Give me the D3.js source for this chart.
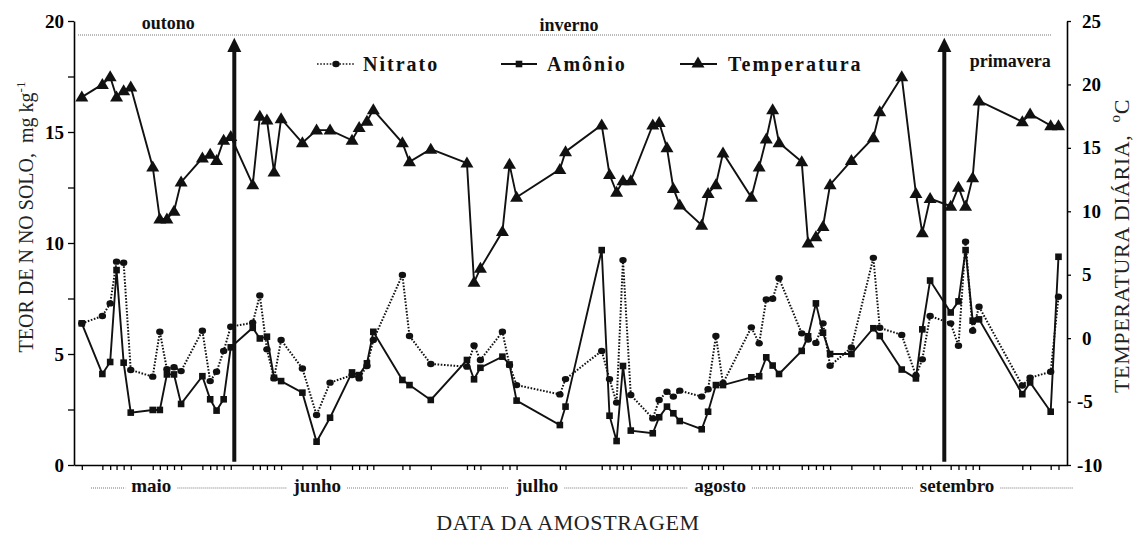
<!DOCTYPE html>
<html><head><meta charset="utf-8">
<script src="https://cdn.jsdelivr.net/npm/d3@7"></script>
<style>
html,body{margin:0;padding:0;background:#fff;}
svg{display:block;font-family:"Liberation Serif","Times New Roman",serif;}
</style></head><body>
<svg id="chart" width="1139" height="541"></svg>
<script>
// ---------- dados ----------
const dias = [1.1,4.0,5.1,6.0,7.0,8.0,11.1,12.1,13.1,14.1,15.1,18.1,19.2,20.1,21.1,22.1,25.2,26.2,27.2,28.2,29.2,32.2,34.2,36.1,39.2,40.2,41.3,42.2,46.3,47.3,50.3,55.4,56.4,57.3,60.4,61.4,62.4,68.5,69.3,74.4,75.5,76.5,77.4,78.5,81.6,82.5,83.6,84.5,85.4,88.5,89.4,90.5,91.5,95.5,96.6,97.6,98.5,99.4,102.6,103.5,104.6,105.6,106.6,109.6,112.7,113.6,116.7,118.7,119.6,120.7,123.6,124.7,125.7,126.7,127.6,133.7,134.8,137.7,138.8];
const nitrato = [6.38,6.71,7.28,9.16,9.11,4.28,3.98,6.00,4.31,4.40,4.23,6.05,3.78,4.20,5.14,6.23,6.41,7.64,5.21,3.90,5.63,4.35,2.25,3.71,4.05,3.90,4.46,5.63,8.56,5.81,4.55,4.43,5.38,4.73,6.00,4.50,3.60,3.18,3.87,5.14,3.87,2.81,9.23,3.15,2.10,2.93,3.30,3.08,3.35,3.08,3.41,5.81,3.68,6.20,5.48,7.46,7.49,8.41,5.93,5.65,5.50,6.38,4.47,5.29,9.33,6.18,5.86,4.03,4.76,6.71,6.38,5.37,10.06,6.05,7.13,3.58,3.93,4.20,7.58];
const amonio = [6.38,4.10,4.64,8.78,4.61,2.36,2.48,2.48,4.08,4.08,2.75,4.00,2.96,2.45,2.96,5.30,6.18,5.70,5.78,3.93,3.78,3.26,1.05,2.13,4.17,4.05,4.58,6.00,3.83,3.60,2.93,4.73,3.86,4.38,4.88,4.53,2.90,1.80,2.63,9.68,2.22,1.08,4.46,1.55,1.43,2.15,2.63,2.33,1.98,1.61,2.40,3.60,3.60,3.95,4.00,4.85,4.48,4.10,5.14,5.80,7.28,5.96,5.00,5.00,6.16,5.81,4.30,3.90,6.11,8.31,6.87,7.37,9.68,6.50,6.56,3.19,3.72,2.40,9.38];
const temperatura = [19.0,20.0,20.6,19.0,19.5,19.8,13.5,9.4,9.4,10.0,12.3,14.2,14.5,14.0,15.6,15.9,12.1,17.5,17.2,13.1,17.3,15.4,16.4,16.4,15.6,16.6,17.1,18.0,15.4,13.9,14.9,13.8,4.4,5.5,8.4,13.7,11.1,13.3,14.7,16.8,12.9,11.5,12.4,12.4,16.8,17.0,15.0,11.8,10.5,8.9,11.4,12.1,14.6,11.1,13.5,15.7,18.0,15.4,13.9,7.5,8.0,8.8,12.1,14.0,15.8,17.85,20.6,11.4,8.3,11.0,10.4,11.9,10.4,12.65,18.7,17.06,17.67,16.75,16.75];
const ticksN = [0,5,10,15,20];
const ticksNmenor = [2.5,7.5,12.5,17.5];
const ticksT = [-10,-5,0,5,10,15,20,25];
const meses = ["maio","junho","julho","agosto","setembro"];
const mesesDia = [10.9,34.3,65.3,91.1,124.5];
const estacoes = ["outono","inverno","primavera"];
const estacoesDia = [13.3,69.8,132.0];
const transicoes = [22.6,122.7];
const series = ["Nitrato","Amônio","Temperatura"];

// ---------- escalas ----------
const svg = d3.select("#chart");
const x = d3.scaleLinear().domain([0,140]).range([74,1067]);
const yN = d3.scaleLinear().domain([0,20]).range([465,21]);
const yT = d3.scaleLinear().domain([-10,25]).range([465,21]);

// ---------- eixos ----------
svg.append("g").attr("transform","translate(74,0)")
  .call(d3.axisLeft(yN).tickValues(ticksN).tickSize(6).tickSizeOuter(0).tickPadding(4).tickFormat(d3.format("d")));
svg.append("g").attr("transform","translate(74,0)")
  .call(d3.axisLeft(yN).tickValues(ticksNmenor).tickSize(6).tickSizeOuter(0).tickFormat(""))
  .select(".domain").remove();
const axR = svg.append("g").attr("transform","translate(1067,0)")
  .call(d3.axisRight(yT).tickValues(ticksT).tickSize(4).tickSizeOuter(0).tickPadding(11).tickFormat(d=>d<0?"-"+Math.abs(d):String(d)));
axR.selectAll(".tick text").attr("dx",d=>d<0?-5:0);
svg.append("g").attr("transform","translate(0,465)")
  .call(d3.axisBottom(x).tickValues(dias).tickSize(5).tickSizeOuter(0).tickFormat(""));
svg.selectAll(".domain").attr("stroke","#000").attr("stroke-width",1.6);
svg.selectAll(".tick line").attr("stroke","#000").attr("stroke-width",1.3);
svg.selectAll(".tick text").attr("font-family","Liberation Serif").attr("font-weight","bold").attr("font-size",19).attr("fill","#000");

// ---------- linhas ----------
const lN = d3.line().x((d,i)=>x(dias[i])).y(d=>yN(d));
const lT = d3.line().x((d,i)=>x(dias[i])).y(d=>yT(d));
svg.append("path").attr("d",lN(nitrato)).attr("fill","none").attr("stroke","#111").attr("stroke-width",2).attr("stroke-dasharray","1.6,1.6");
svg.append("path").attr("d",lN(amonio)).attr("fill","none").attr("stroke","#111").attr("stroke-width",1.9);
svg.append("path").attr("d",lT(temperatura)).attr("fill","none").attr("stroke","#111").attr("stroke-width",1.9);

const tri = "M0,-6.5L6.5,4.5L-6.5,4.5Z";
svg.append("g").selectAll("ellipse").data(nitrato).join("ellipse")
  .attr("cx",(d,i)=>x(dias[i])).attr("cy",d=>yN(d)).attr("rx",3.7).attr("ry",3.2).attr("fill","#111");
svg.append("g").selectAll("rect").data(amonio).join("rect")
  .attr("x",(d,i)=>x(dias[i])-3.3).attr("y",d=>yN(d)-3.3).attr("width",6.6).attr("height",6.6).attr("fill","#111");
svg.append("g").selectAll("path").data(temperatura).join("path")
  .attr("d",tri).attr("transform",(d,i)=>`translate(${x(dias[i])},${yT(d)})`).attr("fill","#111");

// ---------- setas (transição de estação) ----------
transicoes.forEach(t=>{
  const xs = x(t);
  svg.append("line").attr("x1",xs).attr("x2",xs).attr("y1",yN(0.15)).attr("y2",yN(18.7)).attr("stroke","#111").attr("stroke-width",4);
  svg.append("path").attr("d",`M${xs},${yN(19.25)}L${xs+7},${yN(18.6)}L${xs-7},${yN(18.6)}Z`).attr("fill","#111");
});

// ---------- estações ----------
svg.append("line").attr("x1",78).attr("x2",1052).attr("y1",35).attr("y2",35).attr("stroke","#777").attr("stroke-width",1.2).attr("stroke-dasharray","1,1");
const estY = [29,31,67];
estacoes.forEach((e,i)=>{
  svg.append("text").attr("x",x(estacoesDia[i])).attr("y",estY[i]).attr("text-anchor","middle")
    .attr("font-weight","bold").attr("font-size",18).attr("fill","#111").text(e);
});

// ---------- legenda ----------
const leg = svg.append("g").attr("font-weight","bold").attr("font-size",20).attr("letter-spacing","2px").attr("fill","#111");
leg.append("line").attr("x1",317).attr("x2",354).attr("y1",64).attr("y2",64).attr("stroke","#555").attr("stroke-width",2).attr("stroke-dasharray","1.6,1.6");
leg.append("ellipse").attr("cx",336).attr("cy",64).attr("rx",3.7).attr("ry",3.2).attr("fill","#111");
leg.append("text").attr("x",363).attr("y",71).text(series[0]);
leg.append("line").attr("x1",501).attr("x2",537).attr("y1",64).attr("y2",64).attr("stroke","#111").attr("stroke-width",2);
leg.append("rect").attr("x",515.7).attr("y",60.7).attr("width",6.6).attr("height",6.6).attr("fill","#111");
leg.append("text").attr("x",547).attr("y",71).text(series[1]);
leg.append("line").attr("x1",680).attr("x2",717).attr("y1",64).attr("y2",64).attr("stroke","#111").attr("stroke-width",2);
leg.append("path").attr("d",tri).attr("transform","translate(698,63)").attr("fill","#111");
leg.append("text").attr("x",728).attr("y",71).text(series[2]);

// ---------- meses ----------
const gM = svg.append("g");
let prevX = 91;
meses.forEach((m,i)=>{
  const t = gM.append("text").attr("x",x(mesesDia[i])).attr("y",492).attr("text-anchor","middle")
    .attr("font-weight","bold").attr("font-size",19).attr("fill","#111").text(m);
  const bb = t.node().getBBox();
  gM.append("line").attr("x1",prevX).attr("x2",bb.x-6).attr("y1",488).attr("y2",488)
    .attr("stroke","#777").attr("stroke-width",1.2).attr("stroke-dasharray","1,1");
  prevX = bb.x + bb.width + 6;
});
gM.append("line").attr("x1",prevX).attr("x2",1073).attr("y1",488).attr("y2",488)
  .attr("stroke","#777").attr("stroke-width",1.2).attr("stroke-dasharray","1,1");

// ---------- títulos dos eixos ----------
svg.append("text").attr("x",568).attr("y",530).attr("text-anchor","middle").attr("font-size",22)
  .attr("letter-spacing","0.6px").attr("fill","#222").text("DATA DA AMOSTRAGEM");
const tl = svg.append("text").attr("transform","translate(33,217) rotate(-90)").attr("text-anchor","middle")
  .attr("font-size",20).attr("fill","#222").style("white-space","pre");
tl.append("tspan").text("TEOR DE N NO SOLO,\u00a0\u00a0mg kg");
tl.append("tspan").attr("dy",-8).attr("font-size",13).text("-1");
const tr = svg.append("text").attr("transform","translate(1129,246) rotate(-90)").attr("text-anchor","middle")
  .attr("font-size",22).attr("letter-spacing","0.6px").attr("fill","#222").style("white-space","pre");
tr.append("tspan").text("TEMPERATURA DIÁRIA,\u00a0\u00a0");
tr.append("tspan").attr("dy",-9).attr("font-size",15).text("o");
tr.append("tspan").attr("dy",9).text("C");
</script>
</body></html>
